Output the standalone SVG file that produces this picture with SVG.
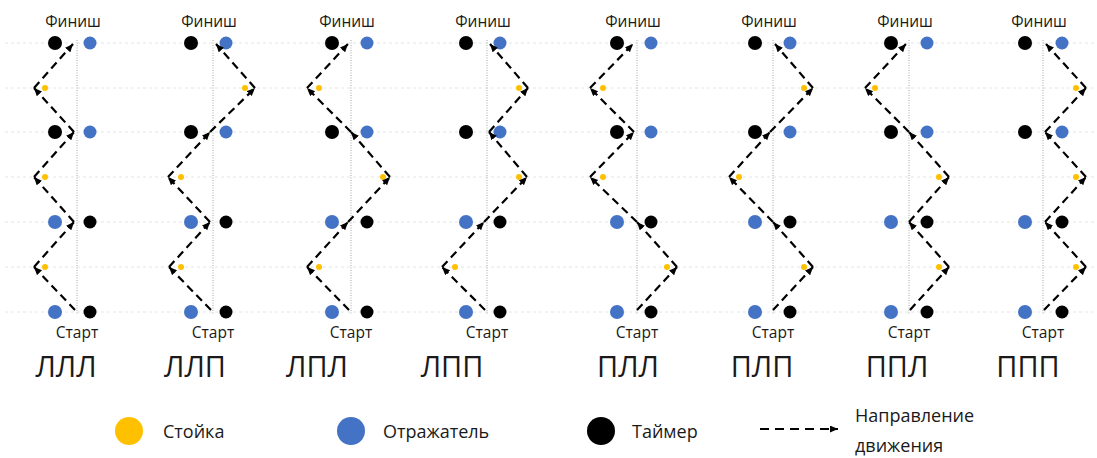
<svg xmlns="http://www.w3.org/2000/svg" width="1097" height="458" viewBox="0 0 1097 458">
<defs>
<marker id="ah" markerUnits="userSpaceOnUse" markerWidth="9" markerHeight="8" refX="8" refY="3.5" orient="auto">
<path d="M0,0 L8,3.5 L0,7 z" fill="#000"/>
</marker>
<style>
.grid{stroke:#e4e4e4;stroke-width:1;stroke-dasharray:3 3;fill:none}
.axis{stroke:#a8a8a8;stroke-width:1;stroke-dasharray:1 1.5;fill:none}
.bk{fill:#000}
.bl{fill:#4472C4}
.ye{fill:#FFC000}
.leg{stroke:#000;stroke-width:2.2;stroke-dasharray:8 5;fill:none;marker-end:url(#ah)}
.t{font-family:"Open Sans","Liberation Sans",sans-serif;fill:#1a1a1a}
.fin{font-size:15.5px;text-anchor:middle}
.lab{font-size:29px;text-anchor:middle}
.lg{font-size:18px}
</style>
</defs>
<rect width="1097" height="458" fill="#fff"/>
<g id="guides">
<line class="grid" x1="5" y1="43" x2="1095" y2="43"/>
<line class="grid" x1="5" y1="88" x2="1095" y2="88"/>
<line class="grid" x1="5" y1="132" x2="1095" y2="132"/>
<line class="grid" x1="5" y1="177" x2="1095" y2="177"/>
<line class="grid" x1="5" y1="222" x2="1095" y2="222"/>
<line class="grid" x1="5" y1="267" x2="1095" y2="267"/>
<line class="grid" x1="5" y1="312" x2="1095" y2="312"/>
</g>

<g id="col1" transform="translate(77,0)">
<line class="axis" x1="0" y1="40" x2="0" y2="314"/>
<text class="t fin" x="-4" y="27">Финиш</text>
<circle class="bk" cx="-22" cy="43" r="7"/><circle class="bl" cx="13" cy="43" r="6.5"/>
<circle class="bk" cx="-22" cy="132" r="7"/><circle class="bl" cx="13" cy="132" r="6.5"/>
<circle class="bl" cx="-22" cy="222" r="7"/><circle class="bk" cx="13" cy="222" r="6.5"/>
<circle class="bl" cx="-22" cy="312" r="7"/><circle class="bk" cx="13" cy="312" r="6.5"/>
<circle class="ye" cx="-32" cy="267" r="3"/><circle class="ye" cx="-32" cy="177" r="3"/><circle class="ye" cx="-32" cy="88" r="3"/>
<text class="t fin" x="0" y="338">Старт</text>
<text class="t lab" x="-11" y="377">ЛЛЛ</text>
</g>
<g id="col2" transform="translate(213,0)">
<line class="axis" x1="0" y1="40" x2="0" y2="314"/>
<text class="t fin" x="-4" y="27">Финиш</text>
<circle class="bk" cx="-22" cy="43" r="7"/><circle class="bl" cx="13" cy="43" r="6.5"/>
<circle class="bk" cx="-22" cy="132" r="7"/><circle class="bl" cx="13" cy="132" r="6.5"/>
<circle class="bl" cx="-22" cy="222" r="7"/><circle class="bk" cx="13" cy="222" r="6.5"/>
<circle class="bl" cx="-22" cy="312" r="7"/><circle class="bk" cx="13" cy="312" r="6.5"/>
<circle class="ye" cx="-32" cy="267" r="3"/><circle class="ye" cx="-32" cy="177" r="3"/><circle class="ye" cx="32" cy="88" r="3"/>
<text class="t fin" x="0" y="338">Старт</text>
<text class="t lab" x="-18" y="377">ЛЛП</text>
</g>
<g id="col3" transform="translate(351,0)">
<line class="axis" x1="0" y1="40" x2="0" y2="314"/>
<text class="t fin" x="-4" y="27">Финиш</text>
<circle class="bk" cx="-19" cy="43" r="7"/><circle class="bl" cx="16" cy="43" r="6.5"/>
<circle class="bk" cx="-19" cy="132" r="7"/><circle class="bl" cx="16" cy="132" r="6.5"/>
<circle class="bl" cx="-19" cy="222" r="7"/><circle class="bk" cx="16" cy="222" r="6.5"/>
<circle class="bl" cx="-19" cy="312" r="7"/><circle class="bk" cx="16" cy="312" r="6.5"/>
<circle class="ye" cx="-32" cy="267" r="3"/><circle class="ye" cx="32" cy="177" r="3"/><circle class="ye" cx="-32" cy="88" r="3"/>
<text class="t fin" x="0" y="338">Старт</text>
<text class="t lab" x="-34" y="377">ЛПЛ</text>
</g>
<g id="col4" transform="translate(487,0)">
<line class="axis" x1="0" y1="40" x2="0" y2="314"/>
<text class="t fin" x="-4" y="27">Финиш</text>
<circle class="bk" cx="-21" cy="43" r="7"/><circle class="bl" cx="13" cy="43" r="6.5"/>
<circle class="bk" cx="-21" cy="132" r="7"/><circle class="bl" cx="13" cy="132" r="6.5"/>
<circle class="bl" cx="-21" cy="222" r="7"/><circle class="bk" cx="13" cy="222" r="6.5"/>
<circle class="bl" cx="-21" cy="312" r="7"/><circle class="bk" cx="13" cy="312" r="6.5"/>
<circle class="ye" cx="-32" cy="267" r="3"/><circle class="ye" cx="32" cy="177" r="3"/><circle class="ye" cx="32" cy="88" r="3"/>
<text class="t fin" x="0" y="338">Старт</text>
<text class="t lab" x="-35" y="377">ЛПП</text>
</g>
<g id="col5" transform="translate(637,0)">
<line class="axis" x1="0" y1="40" x2="0" y2="314"/>
<text class="t fin" x="-4" y="27">Финиш</text>
<circle class="bk" cx="-20" cy="43" r="7"/><circle class="bl" cx="14" cy="43" r="6.5"/>
<circle class="bk" cx="-20" cy="132" r="7"/><circle class="bl" cx="14" cy="132" r="6.5"/>
<circle class="bl" cx="-20" cy="222" r="7"/><circle class="bk" cx="14" cy="222" r="6.5"/>
<circle class="bl" cx="-20" cy="312" r="7"/><circle class="bk" cx="14" cy="312" r="6.5"/>
<circle class="ye" cx="30" cy="267" r="3"/><circle class="ye" cx="-34" cy="177" r="3"/><circle class="ye" cx="-34" cy="88" r="3"/>
<text class="t fin" x="0" y="338">Старт</text>
<text class="t lab" x="-9" y="377">ПЛЛ</text>
</g>
<g id="col6" transform="translate(773,0)">
<line class="axis" x1="0" y1="40" x2="0" y2="314"/>
<text class="t fin" x="-4" y="27">Финиш</text>
<circle class="bk" cx="-18" cy="43" r="7"/><circle class="bl" cx="17" cy="43" r="6.5"/>
<circle class="bk" cx="-18" cy="132" r="7"/><circle class="bl" cx="17" cy="132" r="6.5"/>
<circle class="bl" cx="-18" cy="222" r="7"/><circle class="bk" cx="17" cy="222" r="6.5"/>
<circle class="bl" cx="-18" cy="312" r="7"/><circle class="bk" cx="17" cy="312" r="6.5"/>
<circle class="ye" cx="31" cy="267" r="3"/><circle class="ye" cx="-34" cy="177" r="3"/><circle class="ye" cx="31" cy="88" r="3"/>
<text class="t fin" x="0" y="338">Старт</text>
<text class="t lab" x="-11" y="377">ПЛП</text>
</g>
<g id="col7" transform="translate(909,0)">
<line class="axis" x1="0" y1="40" x2="0" y2="314"/>
<text class="t fin" x="-4" y="27">Финиш</text>
<circle class="bk" cx="-18" cy="43" r="7"/><circle class="bl" cx="18" cy="43" r="6.5"/>
<circle class="bk" cx="-18" cy="132" r="7"/><circle class="bl" cx="18" cy="132" r="6.5"/>
<circle class="bl" cx="-18" cy="222" r="7"/><circle class="bk" cx="18" cy="222" r="6.5"/>
<circle class="bl" cx="-18" cy="312" r="7"/><circle class="bk" cx="18" cy="312" r="6.5"/>
<circle class="ye" cx="30" cy="267" r="3"/><circle class="ye" cx="30" cy="177" r="3"/><circle class="ye" cx="-34" cy="88" r="3"/>
<text class="t fin" x="0" y="338">Старт</text>
<text class="t lab" x="-12" y="377">ППЛ</text>
</g>
<g id="col8" transform="translate(1043,0)">
<line class="axis" x1="0" y1="40" x2="0" y2="314"/>
<text class="t fin" x="-4" y="27">Финиш</text>
<circle class="bk" cx="-18" cy="43" r="7"/><circle class="bl" cx="19" cy="43" r="6.5"/>
<circle class="bk" cx="-18" cy="132" r="7"/><circle class="bl" cx="19" cy="132" r="6.5"/>
<circle class="bl" cx="-18" cy="222" r="7"/><circle class="bk" cx="19" cy="222" r="6.5"/>
<circle class="bl" cx="-18" cy="312" r="7"/><circle class="bk" cx="19" cy="312" r="6.5"/>
<circle class="ye" cx="33" cy="267" r="3"/><circle class="ye" cx="33" cy="177" r="3"/><circle class="ye" cx="33" cy="88" r="3"/>
<text class="t fin" x="0" y="338">Старт</text>
<text class="t lab" x="-15" y="377">ППП</text>
</g>

<g id="connectors">
<g transform="translate(77,0)">
<line class="leg" x1="-2" y1="310" x2="-43" y2="267"/><line class="leg" x1="-43" y1="267" x2="-3" y2="222"/>
<line class="leg" x1="-3" y1="222" x2="-43" y2="177"/><line class="leg" x1="-43" y1="177" x2="-3" y2="132"/>
<line class="leg" x1="-3" y1="132" x2="-43" y2="88"/><line class="leg" x1="-43" y1="88" x2="-4" y2="44"/>
</g>
<g transform="translate(213,0)">
<line class="leg" x1="-2" y1="310" x2="-44" y2="267"/><line class="leg" x1="-44" y1="267" x2="-3" y2="222"/>
<line class="leg" x1="-3" y1="222" x2="-45" y2="177"/><line class="leg" x1="-45" y1="177" x2="-3" y2="132"/>
<line class="leg" x1="-3" y1="132" x2="42" y2="88"/><line class="leg" x1="42" y1="88" x2="3" y2="44"/>
</g>
<g transform="translate(351,0)">
<line class="leg" x1="-2" y1="310" x2="-44" y2="267"/><line class="leg" x1="-44" y1="267" x2="-3" y2="222"/>
<line class="leg" x1="-3" y1="222" x2="39" y2="177"/><line class="leg" x1="39" y1="177" x2="0" y2="132"/>
<line class="leg" x1="0" y1="132" x2="-44" y2="88"/><line class="leg" x1="-44" y1="88" x2="-3" y2="44"/>
</g>
<g transform="translate(487,0)">
<line class="leg" x1="-2" y1="310" x2="-45" y2="267"/><line class="leg" x1="-45" y1="267" x2="-3" y2="222"/>
<line class="leg" x1="-3" y1="222" x2="40" y2="177"/><line class="leg" x1="40" y1="177" x2="2" y2="132"/>
<line class="leg" x1="2" y1="132" x2="41" y2="88"/><line class="leg" x1="41" y1="88" x2="3" y2="44"/>
</g>
<g transform="translate(637,0)">
<line class="leg" x1="0" y1="310" x2="40" y2="267"/><line class="leg" x1="40" y1="267" x2="0" y2="222"/>
<line class="leg" x1="0" y1="222" x2="-47" y2="177"/><line class="leg" x1="-47" y1="177" x2="-3" y2="132"/>
<line class="leg" x1="-3" y1="132" x2="-47" y2="88"/><line class="leg" x1="-47" y1="88" x2="-4" y2="44"/>
</g>
<g transform="translate(773,0)">
<line class="leg" x1="0" y1="310" x2="40" y2="267"/><line class="leg" x1="40" y1="267" x2="0" y2="222"/>
<line class="leg" x1="0" y1="222" x2="-44" y2="177"/><line class="leg" x1="-44" y1="177" x2="-3" y2="132"/>
<line class="leg" x1="-3" y1="132" x2="40" y2="88"/><line class="leg" x1="40" y1="88" x2="2" y2="44"/>
</g>
<g transform="translate(909,0)">
<line class="leg" x1="1" y1="310" x2="40" y2="267"/><line class="leg" x1="40" y1="267" x2="0" y2="222"/>
<line class="leg" x1="0" y1="222" x2="40" y2="177"/><line class="leg" x1="40" y1="177" x2="0" y2="132"/>
<line class="leg" x1="0" y1="132" x2="-44" y2="88"/><line class="leg" x1="-44" y1="88" x2="-3" y2="44"/>
</g>
<g transform="translate(1043,0)">
<line class="leg" x1="1" y1="310" x2="43" y2="267"/><line class="leg" x1="43" y1="267" x2="2" y2="222"/>
<line class="leg" x1="2" y1="222" x2="43" y2="177"/><line class="leg" x1="43" y1="177" x2="2" y2="132"/>
<line class="leg" x1="2" y1="132" x2="43" y2="88"/><line class="leg" x1="43" y1="88" x2="3" y2="44"/>
</g>
</g>

<g id="legend-stand">
<circle class="ye" cx="129" cy="431" r="14"/>
<text class="t lg" x="163" y="438">Стойка</text>
</g>
<g id="legend-reflector">
<circle class="bl" cx="351" cy="431" r="14"/>
<text class="t lg" x="383" y="438">Отражатель</text>
</g>
<g id="legend-timer">
<circle class="bk" cx="601" cy="431" r="14"/>
<text class="t lg" x="632" y="438">Таймер</text>
</g>
<g id="legend-direction">
<line class="leg" x1="760" y1="429" x2="838" y2="429" style="stroke-dasharray:9 6"/>
<text class="t lg" x="855" y="422">Направление</text>
<text class="t lg" x="855" y="452">движения</text>
</g>
</svg>
